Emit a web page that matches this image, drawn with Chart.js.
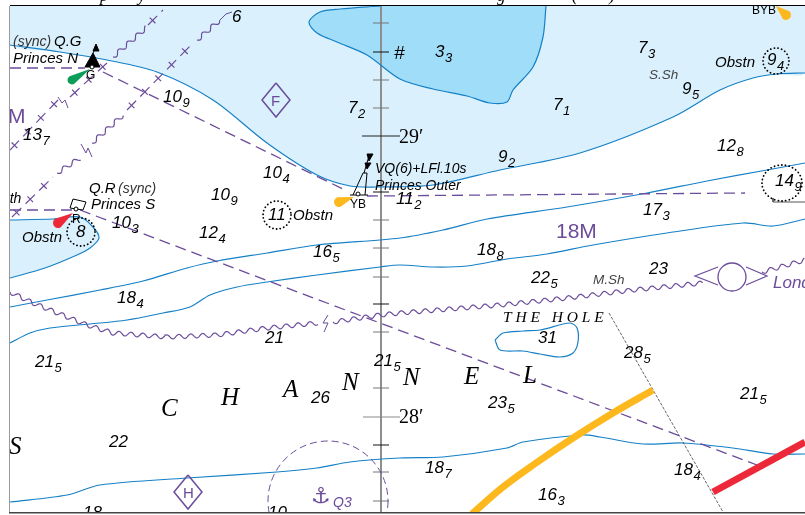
<!DOCTYPE html>
<html><head><meta charset="utf-8">
<style>html,body{margin:0;padding:0;background:#fff}canvas{display:block}</style>
<script src="https://cdn.jsdelivr.net/npm/chart.js@4"></script>
</head><body><canvas id="c" width="805" height="515"></canvas>
<script>
// ---- geography, in map units ----
const shallowEdge = [[10,45],[60,52],[107,60],[157,72],[213,100],[267,143],[317,175],[350,186],[377,187],[433,185],[500,170],[580,153],[673,117],[720,90],[753,78],[777,74],[805,73]];
const deepEdge = [[381,6],[340,9],[320,12],[309,22],[317,33],[337,42],[367,55],[400,79],[433,89],[467,96],[490,103],[507,102],[513,90],[533,67],[543,37],[546,6]];
const bankEdge = [[10,220],[53,219],[80,217],[93,227],[99,238],[90,248],[77,255],[45,268],[10,278]];
const contour1 = [[10,307],[47,300],[100,290],[143,281],[187,268],[217,261],[267,253],[317,245],[400,238],[443,230],[487,219],[567,207],[647,193],[707,181],[767,170],[805,163]];
const contour2 = [[10,343],[30,333],[50,328],[90,324],[127,320],[163,313],[190,307],[210,295],[237,287],[267,282],[317,275],[380,267],[400,265],[433,267],[467,266],[507,259],[547,254],[593,245],[667,233],[743,223],[773,226],[805,219]];
const contour3 = [[10,502],[67,495],[100,485],[187,478],[277,472],[317,468],[350,462],[400,458],[443,457],[507,448],[523,442],[583,435],[600,437],[643,444],[683,443],[733,448],[773,454],[805,454]];
const holeContour = [[495,340],[503,333],[523,331],[540,330],[570,323],[577,328],[578,342],[573,353],[560,357],[540,354],[523,351],[500,350],[495,340]];
const amberRoute = [[653,390],[613,413],[573,438],[536,463],[503,487],[472,514]];
const redRoute = [[713,492],[805,442]];
const courseA = [[10,68],[85,68]];
const courseB = [[103,72],[345,190]];
const courseC = [[367,196],[745,193]];
const courseD = [[10,210],[75,210]];
const courseE = [[80,210],[757,465]];
const limitLine = [[609,313],[723,512]];
const waveMain1 = [[10,292],[33,303],[87,325],[113,333],[167,337],[217,335],[267,328],[318,323]];
const waveMain2 = [[333,322],[380,315],[400,313],[500,305],[567,298],[633,290],[703,283]];
const waveMain3 = [[762,272],[805,260]];
const waveN1 = [[113,57],[147,27]];
const waveS1 = [[57,173],[80,158]];
const waveS2 = [[92,143],[123,115]];
const waveS3 = [[197,40],[220,20]];
const tickN1 = [[10,150],[58,100]];
const tickN2 = [[70,97],[107,63]];
const tickN3 = [[148,25],[163,10]];
const tickS1 = [[12,217],[53,177]];
const tickS2 = [[127,110],[193,43]];
const breakMain = [[328,315],[323,323],[328,323],[324,332]];
const breakN = [[58,97],[62,103],[65,100],[68,108]];
const breakS = [[81,144],[86,153],[88,148],[92,157]];
const capS = [[220,20],[226,14],[232,12]];
const diamondF = [[276,83],[290,100],[276,117],[262,100],[276,83]];
const diamondH = [[188,475],[202,492],[188,509],[174,492],[188,475]];
const lozengeLeft = [[718,267],[695,276],[718,285]];
const lozengeRight = [[746,267],[767,276],[746,285]];
const wreckBox = [[773,198],[773,202],[805,202]];
const meridian = [[381,6],[381,512]];
const minorTicks = [23,80,108,220,248,277,332,388,472,501];
const blackTicks = [52,304,445,192];
const longTicks = [136,417];
// buoys
const topmarkN = [[93,51],[99,51],[96,44],[93,51]];
const hullN = [[85,67],[93,53],[100,67],[85,67]];
const stemN = [[93,53],[96,47]];
const hullS = [[70,208],[73,199],[86,202],[83,210],[70,208]];
const towerOuterL = [[353,195],[363,173],[367,173],[365,195]];
const towerBase = [[350,195],[368,195]];
const stemOuter = [[369,156],[364,173]];
const topmarkO1 = [[367,154],[373,154],[369,161],[367,154]];
const topmarkO2 = [[365,163],[371,163],[367,169],[365,163]];
const buoyRings = [[92,67],[76,209],[358,194]];
// [tipX, tipY, endX, endY, radius, colourKey]
const flares = [[90,69,72,80,4.5,'green'],[73,213,58,223,5,'red'],[354,197,339,202,5,'amber'],[776,6,786,15,5,'amber']];
// [x, y, radiusX, radiusY, styleKey]
const rings = [[277,215,14,14,'dot'],[81,232,14,14,'dot'],[776,61,13,13,'dot'],[782,183,20,18,'dot'],[328,501,60,60,'dash'],[732,277,14,14,'solid']];
// [x, baseline, whole metres, tenths]
const soundings = [[232,22,'6',''],[23,140,'13','7'],[163,102,'10','9'],[348,113,'7','2'],[263,178,'10','4'],[211,200,'10','9'],[112,228,'10','3'],[199,238,'12','4'],[313,257,'16','5'],
[435,57,'3','3'],[638,53,'7','3'],[553,110,'7','1'],[682,94,'9','5'],[498,162,'9','2'],[717,151,'12','8'],[775,186,'14','9'],[767,65,'9','4'],[643,215,'17','3'],[396,204,'11','2'],[477,255,'18','8'],
[531,283,'22','5'],[649,274,'23',''],[538,343,'31',''],[624,358,'28','5'],[740,399,'21','5'],[488,408,'23','5'],[425,473,'18','7'],[674,475,'18','4'],[538,500,'16','3'],
[117,303,'18','4'],[265,343,'21',''],[35,367,'21','5'],[374,366,'21','5'],[311,403,'26',''],[109,447,'22',''],[83,518,'18',''],[268,518,'10',''],[268,220,'11',''],[76,237,'8','']];
// [x, baseline, text, fontKey]
const labels = [
[293,220,'Obstn','note'],[22,242,'Obstn','note'],[715,67,'Obstn','note'],
[649,79,'S.Sh','shoal'],[593,284,'M.Sh','shoal'],
[13,46,'(sync)','sync'],[54,46,'Q.G','note'],[13,63,'Princes N','note'],
[89,193,'Q.R','note'],[118,193,'(sync)','sync'],[91,209,'Princes S','note'],[5,203,'rth','small'],
[375,173,'VQ(6)+LFl.10s','small'],[375,190,'Princes Outer','small'],
[86,79,'G','tag'],[72,223,'R','tag'],[350,208,'YB','tag'],[752,14,'BYB','tag'],
[161,416,'C','chan'],[221,405,'H','chan'],[283,397,'A','chan'],[342,390,'N','chan'],[403,385,'N','chan'],[464,384,'E','chan'],[523,383,'L','chan'],[9,454,'S','chan'],
[503,322,'T H E   H O L E','hole'],[399,143,'29′','lat'],[399,423,'28′','lat'],[394,59,'#','hash'],
[8,123,'M','area'],[556,238,'18M','area'],[773,288,'London','lond'],[333,507,'Q3','q3'],[311,503,'⚓','anchor'],
[271,106,'F','dia'],[183,498,'H','dia']];
const headerBits = [[100,1,'p'],[138,1,'y'],[497,1,'g'],[572,1,'('],[609,1,')']];

const C = {purple:'#6B4C9A',blue:'#1680C6',light:'#DAF1FD',deep:'#9FDDF9',amber:'#FDB81E',red:'#ED2939',green:'#0E9C5A',grey:'#8E8E8E'};
const F = {note:'italic 15px "Liberation Sans"',small:'italic 14px "Liberation Sans"',sync:'italic 14px "Liberation Sans"',shoal:'italic 13.5px "Liberation Sans"',tag:'12px "Liberation Sans"',
 chan:'italic 25px "Liberation Serif"',hole:'italic 15.5px "Liberation Serif"',lat:'20px "Liberation Serif"',hash:'italic 19px "Liberation Sans"',area:'21px "Liberation Sans"',lond:'italic 17px "Liberation Sans"',
 q3:'italic 14px "Liberation Sans"',anchor:'22px "DejaVu Sans"',dia:'15px "Liberation Sans"'};
const FC = {sync:'#333',shoal:'#444',area:C.purple,lond:C.purple,q3:C.purple,anchor:C.purple,dia:C.purple};

const pts = a => a.map(p => ({x:p[0],y:p[1]}));
const line = (a,color,width,extra) => Object.assign({data:pts(a),showLine:true,pointRadius:0,borderColor:color,borderWidth:width,fill:false,tension:0},extra||{});
const area = (a,color) => ({data:pts(a),showLine:true,pointRadius:0,borderWidth:0,borderColor:'transparent',backgroundColor:color,fill:'shape',tension:0.3});
const wave = a => ({data:pts(a),showLine:false,pointRadius:0,wave:true});
const ticked = a => ({data:pts(a),showLine:false,pointRadius:0,ticked:true});
const dash = [11,6];
const contour = a => line(a,C.blue,1.2,{tension:0.3});
const poly = (a,stroke,fillc,w) => line(a,stroke,w,{backgroundColor:fillc,fill:'shape'});

const tickLines = [];
minorTicks.forEach(y => tickLines.push(line([[373,y],[389,y]],'#777',1)));
blackTicks.forEach(y => tickLines.push(line([[373,y],[389,y]],'#111',1)));
tickLines.push(line([[362,longTicks[0]],[400,longTicks[0]]],'#222',1));
tickLines.push(line([[363,longTicks[1]],[400,longTicks[1]]],'#888',1));

const datasets = [
 area([[0,6],...shallowEdge,[815,0],[0,0]],C.light),
 area([[381,0],...deepEdge,[546,0]],C.deep),
 area([[0,220],...bankEdge,[0,278]],C.light),
 line(meridian,C.grey,2),...tickLines,
 contour(shallowEdge),contour(deepEdge),contour(bankEdge),contour(contour1),contour(contour2),contour(contour3),contour(holeContour),
 line(limitLine,'#222',0.7,{borderDash:[3,1.5]}),
 ...[courseA,courseB,courseC,courseD,courseE].map(a => line(a,C.purple,1.3,{borderDash:dash})),
 ...[waveMain1,waveMain2,waveMain3,waveN1,waveS1,waveS2,waveS3].map(wave),
 ...[tickN1,tickN2,tickN3,tickS1,tickS2].map(ticked),
 ...[breakMain,breakN,breakS,capS].map(a => line(a,C.purple,1)),
 line(amberRoute,C.amber,7,{tension:0.4}),line(redRoute,C.red,7),
 line(diamondF,C.purple,1.5),line(diamondH,C.purple,1.5),
 line(lozengeLeft,C.purple,1.2),line(lozengeRight,C.purple,1.2),
 line(wreckBox,'#555',1),
 poly(hullN,'#000','#000',1),poly(topmarkN,'#000','#000',1),line(stemN,'#000',1),
 poly(hullS,'#000','#fff',1),
 line(towerOuterL,'#000',1),line(towerBase,'#000',1),line(stemOuter,'#000',1),poly(topmarkO1,'#000','#000',1),poly(topmarkO2,'#000','#000',1)
];
datasets.forEach((d,i) => d.order = -i);

const seaDecor = {
 id:'seaDecor',
 afterDatasetsDraw(chart){
  const {ctx,chartArea:a,scales:{x,y}} = chart;
  const X = v => x.getPixelForValue(v), Y = v => y.getPixelForValue(v);
  ctx.save();
  ctx.beginPath();ctx.rect(a.left,a.top,a.right-a.left,a.bottom-a.top);ctx.clip();
  // decorated line styles
  chart.data.datasets.forEach((d,i) => {
   if(!d.wave && !d.ticked) return;
   const p = chart.getDatasetMeta(i).data;
   ctx.strokeStyle = C.purple;ctx.lineWidth = 1.2;
   if(d.wave){
    ctx.beginPath();let s = 0,first = true;
    for(let k=0;k<p.length-1;k++){
     const dx=p[k+1].x-p[k].x,dy=p[k+1].y-p[k].y,l=Math.hypot(dx,dy);
     for(let t=0;t<l;t+=0.5){
      const o=2.1*Math.sin(2*Math.PI*(s+t)/12);
      const px=p[k].x+dx*t/l-dy/l*o,py=p[k].y+dy*t/l+dx/l*o;
      if(first){ctx.moveTo(px,py);first=false;}else ctx.lineTo(px,py);
     }
     s+=l;
    }
    ctx.stroke();
   } else {
    for(let k=0;k<p.length-1;k++){
     const dx=p[k+1].x-p[k].x,dy=p[k+1].y-p[k].y,l=Math.hypot(dx,dy);
     ctx.setLineDash([13,6]);ctx.beginPath();ctx.moveTo(p[k].x,p[k].y);ctx.lineTo(p[k+1].x,p[k+1].y);ctx.stroke();ctx.setLineDash([]);
     for(let t=6.5;t<l;t+=19){
      const cx=p[k].x+dx*t/l,cy=p[k].y+dy*t/l;
      ctx.beginPath();ctx.moveTo(cx-dy/l*4,cy+dx/l*4);ctx.lineTo(cx+dy/l*4,cy-dx/l*4);ctx.stroke();
     }
    }
   }
  });
  // flares
  flares.forEach(f => {
   const tx=X(f[0]),ty=Y(f[1]),ex=X(f[2]),ey=Y(f[3]),r=f[4],an=Math.atan2(ty-ey,tx-ex);
   ctx.fillStyle=C[f[5]];ctx.beginPath();ctx.moveTo(tx,ty);
   ctx.arc(ex,ey,r,an+Math.PI/2,an-Math.PI/2);ctx.closePath();ctx.fill();
  });
  // rings
  rings.forEach(r => {
   ctx.beginPath();ctx.ellipse(X(r[0]),Y(r[1]),r[2],r[3],0,0,Math.PI*2);
   if(r[4]==='dot'){ctx.strokeStyle='#000';ctx.lineWidth=1.8;ctx.lineCap='round';ctx.setLineDash([0.1,3.6]);}
   else if(r[4]==='dash'){ctx.strokeStyle=C.purple;ctx.lineWidth=1;ctx.setLineDash([7,4]);}
   else {ctx.strokeStyle=C.purple;ctx.lineWidth=1.3;}
   ctx.stroke();ctx.setLineDash([]);ctx.lineCap='butt';
  });
  buoyRings.forEach(b => {ctx.beginPath();ctx.arc(X(b[0]),Y(b[1]),2,0,Math.PI*2);ctx.fillStyle='#fff';ctx.fill();ctx.strokeStyle='#000';ctx.lineWidth=1;ctx.stroke();});
  // text
  ctx.textBaseline='alphabetic';ctx.textAlign='left';
  soundings.forEach(s => {
   ctx.fillStyle='#000';ctx.font='italic 17px "Liberation Sans"';
   const w=ctx.measureText(s[2]).width;ctx.fillText(s[2],X(s[0]),Y(s[1]));
   if(s[3]){ctx.font='italic 13px "Liberation Sans"';ctx.fillText(s[3],X(s[0])+w+0.5,Y(s[1])+5);}
  });
  labels.forEach(l => {ctx.fillStyle=FC[l[3]]||'#000';ctx.font=F[l[3]];ctx.fillText(l[2],X(l[0]),Y(l[1]));});
  ctx.restore();
  // frame and clipped header text above the frame
  ctx.save();
  ctx.beginPath();ctx.rect(0,0,805,a.top);ctx.clip();
  ctx.fillStyle='#000';ctx.font='italic 17px "Liberation Serif"';
  headerBits.forEach(h => ctx.fillText(h[2],h[0],h[1]));
  ctx.restore();
  ctx.fillStyle='#000';ctx.fillRect(a.left,a.top-1,a.right-a.left,1);
  ctx.fillStyle='#9a9a9a';ctx.fillRect(a.left-1,a.top,1,a.bottom-a.top);
  ctx.fillStyle='#444';ctx.fillRect(a.left-1,a.bottom,a.right-a.left+1,1.5);
 }
};

new Chart(document.getElementById('c'),{
 type:'scatter',
 data:{datasets},
 options:{
  responsive:false,animation:false,devicePixelRatio:1,
  layout:{padding:{left:10,top:6,right:0,bottom:3}},
  plugins:{legend:{display:false},tooltip:{enabled:false},title:{display:false}},
  scales:{
   x:{type:'linear',min:10,max:805,display:false},
   y:{type:'linear',min:6,max:512,reverse:true,display:false}
  }
 },
 plugins:[seaDecor]
});
</script></body></html>
